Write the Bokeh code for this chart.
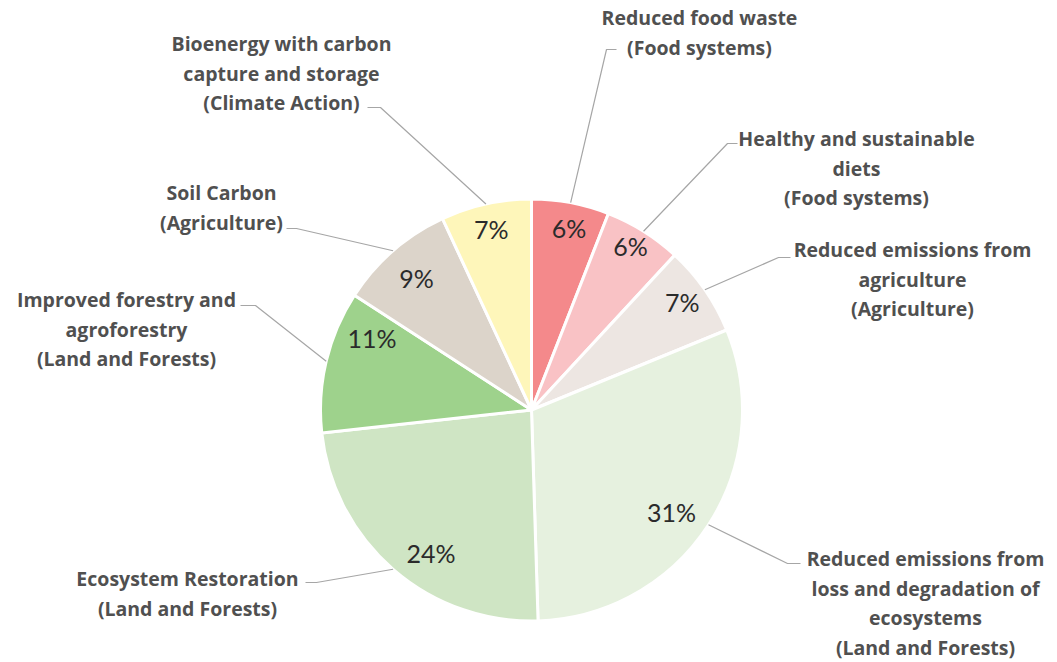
import math
from bokeh.plotting import figure
from bokeh.models import Range1d, ColumnDataSource
from bokeh.core.properties import value
from bokeh.embed import file_html
from bokeh.resources import INLINE

# ---------------- data ----------------
categories = [
    "Reduced food waste",
    "Healthy and sustainable diets",
    "Reduced emissions from agriculture",
    "Reduced emissions from loss and degradation of ecosystems",
    "Ecosystem Restoration",
    "Improved forestry and agroforestry",
    "Soil Carbon",
    "Bioenergy with carbon capture and storage",
]
sectors = ["Food systems", "Food systems", "Agriculture", "Land and Forests",
           "Land and Forests", "Land and Forests", "Agriculture", "Climate Action"]
shares = [6, 6, 7, 31, 24, 11, 9, 7]
label_lines = [
    ["Reduced food waste", "(Food systems)"],
    ["Healthy and sustainable", "diets", "(Food systems)"],
    ["Reduced emissions from", "agriculture", "(Agriculture)"],
    ["Reduced emissions from", "loss and degradation of", "ecosystems", "(Land and Forests)"],
    ["Ecosystem Restoration", "(Land and Forests)"],
    ["Improved forestry and", "agroforestry", "(Land and Forests)"],
    ["Soil Carbon", "(Agriculture)"],
    ["Bioenergy with carbon", "capture and storage", "(Climate Action)"],
]

# ---------------- style / layout ----------------
colors = ["#F4898B", "#F9C2C5", "#EDE6E2", "#E6F1DF", "#CFE5C4", "#9ED28C", "#DCD4CA", "#FEF6BA"]
W, H = 1057, 662
CX, CY, R = 531, 409.5, 211
pct_radius = [0.88, 0.91, 0.88, 0.82, 0.83, 0.83, 0.83, 0.88]
pct_nudge_deg = [1, -1, -1, 3, -6, 11, 0, 0]
# label block: centre x, first line y ; leader elbow and stub end (page px, y down)
label_cx = [699, 856, 912, 925, 187, 126, 221, 281]
label_y0 = [17, 138, 249, 558, 578, 299, 192, 43]
elbow = [(606, 49), (727, 143), (778, 257), (787, 563), (316, 582), (255, 305), (296, 228), (380, 107)]
stub_end = [(616, 49), (737, 143), (790, 257), (800, 563), (305, 582), (240, 305), (286, 228), (367, 107)]
LINE_H = 29.5


def Y(y):
    return H - y


p = figure(width=W, height=H, output_backend="svg", toolbar_location=None,
           x_range=Range1d(0, W), y_range=Range1d(0, H),
           x_axis_type=None, y_axis_type=None, min_border=0)
p.outline_line_color = None
p.grid.visible = False
p.background_fill_color = "white"

total = float(sum(shares))
starts, ends, mids = [], [], []
cum = 0.0
for s in shares:
    a0 = cum / total * 2 * math.pi
    cum += s
    a1 = cum / total * 2 * math.pi
    # angles measured clockwise from 12 o'clock -> bokeh (anticlockwise from +x)
    starts.append(math.pi / 2 - a1)
    ends.append(math.pi / 2 - a0)
    mids.append((a0 + a1) / 2)

src = ColumnDataSource(dict(x=[CX] * len(shares), y=[Y(CY)] * len(shares),
                            start=starts, end=ends, color=colors,
                            cat=categories))
p.wedge(x="x", y="y", radius=R, radius_units="screen", start_angle="start",
        end_angle="end", direction="anticlock", fill_color="color",
        line_color="white", line_width=3, source=src)

# percentage labels
px, py, pt = [], [], []
for i, s in enumerate(shares):
    ang = mids[i] + math.radians(pct_nudge_deg[i])
    r = pct_radius[i] * R
    px.append(CX + r * math.sin(ang))
    py.append(Y(CY - r * math.cos(ang)))
    pt.append(f"{s}%")
p.text(x=px, y=py, text=pt, text_font=value("Lato"), text_font_size="25px",
       text_color="#2B2B2B", text_align="center", text_baseline="middle")

# leader lines
xs, ys = [], []
for i in range(len(shares)):
    ex = CX + R * math.sin(mids[i])
    ey = CY - R * math.cos(mids[i])
    xs.append([ex, elbow[i][0], stub_end[i][0]])
    ys.append([Y(ey), Y(elbow[i][1]), Y(stub_end[i][1])])
p.multi_line(xs=xs, ys=ys, line_color="#A6A6A6", line_width=1.2)

# category labels
tx, ty, tt = [], [], []
for i, lines in enumerate(label_lines):
    for j, ln in enumerate(lines):
        tx.append(label_cx[i])
        ty.append(Y(label_y0[i] + j * LINE_H))
        tt.append(ln)
p.text(x=tx, y=ty, text=tt, text_font=value("Open Sans"), text_font_size="19.5px",
       text_font_style="bold", text_color="#505050", text_align="center",
       text_baseline="middle")

open("out.html", "w").write(file_html(p, INLINE))
